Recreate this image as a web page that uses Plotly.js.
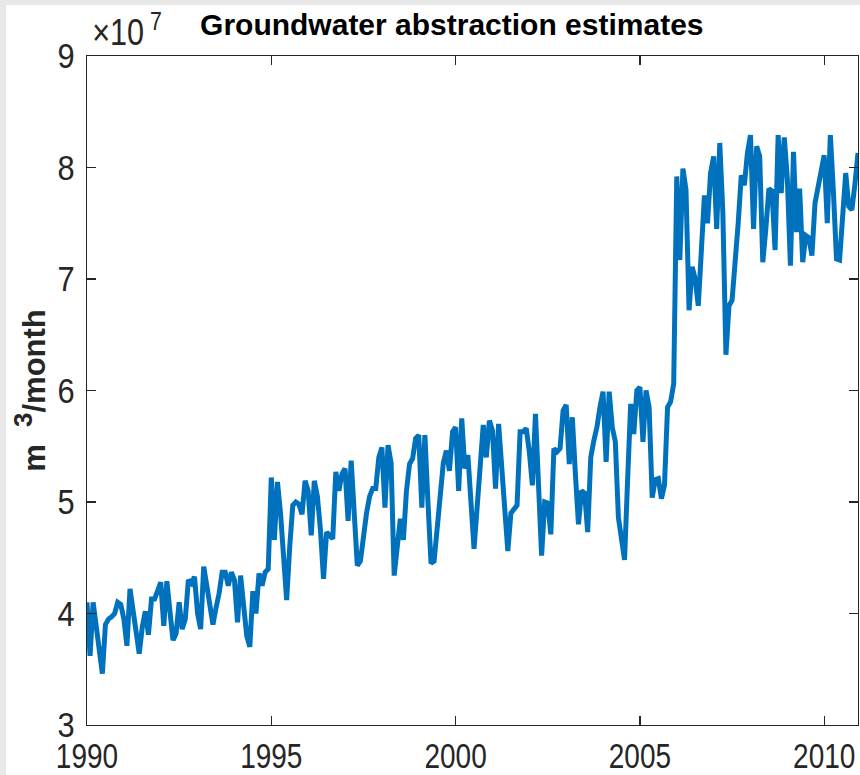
<!DOCTYPE html>
<html><head><meta charset="utf-8">
<script src="https://cdn.plot.ly/plotly-3.0.1.min.js"></script>
<style>
html,body{margin:0;padding:0;background:#e8e8e8;width:860px;height:775px;overflow:hidden;}
#chart{position:absolute;left:6px;top:5px;width:854px;height:770px;background:#fff;}
</style></head><body><div id="chart"></div>
<script>
// Monthly groundwater abstraction estimates, in units of 10^7 m^3/month (Jan..Dec)
const startYear = 1990;
const v1990 = [4.10, 3.62, 4.10, 3.90, 3.65, 3.46, 3.90, 3.95, 3.97, 4.00, 4.10, 4.08];
const v1991 = [3.95, 3.71, 4.22, 4.00, 3.80, 3.64, 3.88, 4.02, 3.81, 4.13, 4.13, 4.22];
const v1992 = [4.28, 3.89, 4.29, 4.02, 3.76, 3.82, 4.10, 3.86, 3.95, 4.30, 4.27, 4.33];
const v1993 = [4.00, 3.86, 4.42, 4.25, 4.05, 3.90, 4.05, 4.18, 4.37, 4.37, 4.25, 4.37];
const v1994 = [4.30, 3.92, 4.34, 4.05, 3.80, 3.70, 4.20, 4.00, 4.36, 4.25, 4.37, 4.40];
const v1995 = [5.22, 4.66, 5.18, 4.90, 4.45, 4.12, 4.60, 4.97, 5.00, 4.98, 4.89, 5.19];
const v1996 = [5.10, 4.70, 5.19, 5.05, 4.75, 4.31, 4.73, 4.70, 4.67, 5.27, 5.10, 5.25];
const v1997 = [5.30, 4.83, 5.37, 4.90, 4.43, 4.47, 4.70, 4.90, 5.05, 5.12, 5.12, 5.40];
const v1998 = [5.49, 4.95, 5.51, 5.35, 4.34, 4.60, 4.85, 4.66, 5.10, 5.34, 5.39, 5.57];
const v1999 = [5.60, 4.95, 5.60, 5.00, 4.45, 4.47, 4.75, 5.05, 5.35, 5.46, 5.28, 5.63];
const v2000 = [5.67, 5.10, 5.75, 5.30, 5.42, 5.00, 4.58, 4.95, 5.40, 5.69, 5.40, 5.73];
const v2001 = [5.64, 5.12, 5.70, 5.35, 4.95, 4.56, 4.90, 4.94, 4.97, 5.63, 5.63, 5.66];
const v2002 = [5.45, 5.15, 5.79, 5.15, 4.52, 5.00, 4.99, 4.71, 5.48, 5.45, 5.48, 5.82];
const v2003 = [5.87, 5.34, 5.76, 5.25, 4.80, 5.10, 5.08, 4.73, 5.40, 5.55, 5.67, 5.85];
const v2004 = [5.99, 5.36, 5.99, 5.67, 5.54, 4.86, 4.65, 4.48, 5.20, 5.88, 5.61, 6.00];
const v2005 = [6.03, 5.54, 6.00, 5.85, 5.04, 5.20, 5.21, 5.03, 5.15, 5.85, 5.90, 6.06];
const v2006 = [7.92, 7.17, 7.99, 7.80, 6.72, 7.11, 7.00, 6.76, 7.25, 7.75, 7.50, 7.95];
const v2007 = [8.10, 7.45, 8.22, 7.60, 6.32, 6.76, 6.81, 7.10, 7.50, 7.93, 7.84, 8.13];
const v2008 = [8.29, 7.45, 8.19, 8.10, 7.15, 7.45, 7.81, 7.79, 7.26, 8.29, 7.77, 8.27];
const v2009 = [7.90, 7.12, 8.14, 7.42, 7.81, 7.15, 7.39, 7.37, 7.21, 7.68, 7.82, 7.96];
const v2010 = [8.11, 7.50, 8.29, 7.78, 7.18, 7.17, 7.55, 7.95, 7.65, 7.62, 7.85, 8.13];

const yearly = [v1990, v1991, v1992, v1993, v1994, v1995, v1996, v1997, v1998, v1999, v2000,
                v2001, v2002, v2003, v2004, v2005, v2006, v2007, v2008, v2009, v2010];
const xTicks = [1990, 1995, 2000, 2005, 2010];
const yTicks = [3, 4, 5, 6, 7, 8, 9];

const x = [], y = [];
yearly.forEach((arr, k) => arr.forEach((v, m) => { x.push(startYear + k + m / 12); y.push(v); }));

const FONT = "'Liberation Sans', Arial, Helvetica, sans-serif";
const AX = '#262626';

const axisCommon = {
  showline: true, linecolor: AX, linewidth: 1.3, mirror: 'ticks',
  ticks: 'inside', ticklen: 9, tickwidth: 1.3, tickcolor: AX,
  showgrid: false, zeroline: false, ticklabeloverflow: 'allow',
  tickfont: {family: FONT, size: 35, color: AX}
};

const layout = {
  width: 854, height: 770,
  paper_bgcolor: '#ffffff', plot_bgcolor: '#ffffff',
  margin: {l: 81, r: 2, t: 51, b: 50},
  showlegend: false,
  title: {
    text: 'Groundwater abstraction estimates',
    font: {family: FONT, size: 30, color: '#000000', weight: 'bold'},
    x: 0.522, xanchor: 'center', xref: 'container',
    y: 0.988, yanchor: 'top', yref: 'container'
  },
  xaxis: Object.assign({}, axisCommon, {
    range: [1990, 2010 + 11 / 12], tickvals: xTicks, ticktext: xTicks.map(String),
    ticklabelstandoff: 0
  }),
  yaxis: Object.assign({}, axisCommon, {
    range: [3, 9], tickvals: yTicks, ticktext: yTicks.map(String),
    ticklabelstandoff: 4,
    title: {text: 'm&nbsp;&nbsp;<sup><span style="font-size:26px">3</span></sup>/month',
            font: {family: FONT, size: 31, color: AX, weight: 'bold'}, standoff: 0}
  }),
  annotations: [{
    text: '×10<sup> 7</sup>', xref: 'paper', yref: 'paper', x: 0, y: 1,
    xanchor: 'left', yanchor: 'bottom', xshift: -3, yshift: 1, showarrow: false,
    font: {family: FONT, size: 36, color: AX}
  }]
};

function squeeze(selector, factor) {
  document.querySelectorAll(selector).forEach(el => {
    const w = el.getComputedTextLength();
    if (w > 0) {
      el.setAttribute('textLength', (w * factor).toFixed(2));
      el.setAttribute('lengthAdjust', 'spacingAndGlyphs');
    }
  });
}

Plotly.newPlot('chart', [{
  type: 'scatter', mode: 'lines', x: x, y: y,
  line: {color: '#0072BD', width: 5}, hoverinfo: 'x+y'
}], layout, {displayModeBar: false, staticPlot: true}).then(() => {
  squeeze('#chart .xtick text', 0.8);
  squeeze('#chart .ytick text', 0.88);
  squeeze('#chart .annotation-text', 0.85);
});
</script></body></html>
